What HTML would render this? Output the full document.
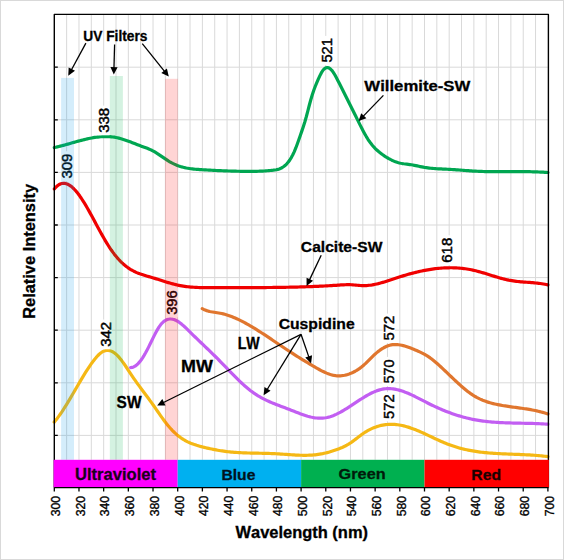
<!DOCTYPE html><html><head><meta charset="utf-8"><style>html,body{margin:0;padding:0;background:#fff;width:564px;height:560px;overflow:hidden}svg{display:block}text{font-family:"Liberation Sans",sans-serif;font-weight:bold;font-kerning:none}</style></head><body>
<svg width="564" height="560" viewBox="0 0 564 560">
<rect x="0" y="0" width="564" height="560" fill="#fff"/>
<rect x="0.5" y="0.5" width="563" height="559" fill="none" stroke="#D9D9D9" stroke-width="1"/>
<path d="M66.64,14.40V459.80 M78.98,14.40V459.80 M91.32,14.40V459.80 M103.66,14.40V459.80 M116.00,14.40V459.80 M128.34,14.40V459.80 M140.68,14.40V459.80 M153.02,14.40V459.80 M165.36,14.40V459.80 M177.70,14.40V459.80 M190.04,14.40V459.80 M202.38,14.40V459.80 M214.72,14.40V459.80 M227.06,14.40V459.80 M239.40,14.40V459.80 M251.74,14.40V459.80 M264.08,14.40V459.80 M276.42,14.40V459.80 M288.76,14.40V459.80 M301.10,14.40V459.80 M313.44,14.40V459.80 M325.78,14.40V459.80 M338.12,14.40V459.80 M350.46,14.40V459.80 M362.80,14.40V459.80 M375.14,14.40V459.80 M387.48,14.40V459.80 M399.82,14.40V459.80 M412.16,14.40V459.80 M424.50,14.40V459.80 M436.84,14.40V459.80 M449.18,14.40V459.80 M461.52,14.40V459.80 M473.86,14.40V459.80 M486.20,14.40V459.80 M498.54,14.40V459.80 M510.88,14.40V459.80 M523.22,14.40V459.80 M535.56,14.40V459.80 M54.30,67.20H547.90 M54.30,119.80H547.90 M54.30,172.40H547.90 M54.30,225.00H547.90 M54.30,277.60H547.90 M54.30,330.20H547.90 M54.30,382.80H547.90 M54.30,435.40H547.90" stroke="#D9D9D9" stroke-width="1" fill="none"/>
<path d="M54.30,147.55 L55.80,147.22 L57.30,146.87 L58.80,146.51 L60.30,146.14 L61.80,145.75 L63.30,145.35 L64.80,144.94 L66.30,144.53 L67.80,144.11 L69.30,143.69 L70.80,143.26 L72.30,142.83 L73.80,142.41 L75.30,141.98 L76.80,141.57 L78.30,141.15 L79.80,140.75 L81.30,140.35 L82.80,139.96 L84.30,139.59 L85.80,139.23 L87.30,138.88 L88.80,138.56 L90.30,138.25 L91.80,137.96 L93.30,137.69 L94.80,137.45 L96.30,137.24 L97.80,137.05 L99.30,136.88 L100.80,136.75 L102.30,136.65 L103.80,136.59 L105.30,136.56 L106.80,136.56 L108.30,136.61 L109.80,136.69 L111.30,136.82 L112.80,136.99 L114.30,137.20 L115.80,137.46 L117.30,137.77 L118.80,138.13 L120.30,138.52 L121.80,138.95 L123.30,139.42 L124.80,139.91 L126.30,140.43 L127.80,140.97 L129.30,141.53 L130.80,142.10 L132.30,142.68 L133.80,143.26 L135.30,143.85 L136.80,144.44 L138.30,145.02 L139.80,145.59 L141.30,146.14 L142.80,146.69 L144.30,147.23 L145.80,147.78 L147.30,148.35 L148.80,148.96 L150.30,149.61 L151.80,150.32 L153.30,151.10 L154.80,151.95 L156.30,152.86 L157.80,153.81 L159.30,154.81 L160.80,155.82 L162.30,156.85 L163.80,157.88 L165.30,158.90 L166.80,159.90 L168.30,160.86 L169.80,161.77 L171.30,162.62 L172.80,163.41 L174.30,164.13 L175.80,164.79 L177.30,165.40 L178.80,165.94 L180.30,166.44 L181.80,166.88 L183.30,167.28 L184.80,167.64 L186.30,167.96 L187.80,168.24 L189.30,168.49 L190.80,168.71 L192.30,168.90 L193.80,169.07 L195.30,169.22 L196.80,169.35 L198.30,169.46 L199.80,169.57 L201.30,169.67 L202.80,169.76 L204.30,169.85 L205.80,169.94 L207.30,170.02 L208.80,170.11 L210.30,170.19 L211.80,170.27 L213.30,170.34 L214.80,170.42 L216.30,170.49 L217.80,170.56 L219.30,170.63 L220.80,170.69 L222.30,170.75 L223.80,170.81 L225.30,170.87 L226.80,170.92 L228.30,170.98 L229.80,171.02 L231.30,171.07 L232.80,171.12 L234.30,171.16 L235.80,171.19 L237.30,171.23 L238.80,171.26 L240.30,171.29 L241.80,171.32 L243.30,171.34 L244.80,171.36 L246.30,171.37 L247.80,171.38 L249.30,171.38 L250.80,171.38 L252.30,171.37 L253.80,171.35 L255.30,171.33 L256.80,171.29 L258.30,171.25 L259.80,171.20 L261.30,171.13 L262.80,171.06 L264.30,170.98 L265.80,170.88 L267.30,170.77 L268.80,170.65 L270.30,170.52 L271.80,170.37 L273.30,170.21 L274.80,170.01 L276.30,169.75 L277.80,169.40 L279.30,168.93 L280.80,168.31 L282.30,167.52 L283.80,166.53 L285.30,165.31 L286.80,163.83 L288.30,162.06 L289.80,159.98 L291.30,157.56 L292.80,154.77 L294.30,151.58 L295.80,147.97 L297.30,144.00 L298.80,139.80 L300.30,135.46 L301.80,131.11 L303.30,126.67 L304.80,121.95 L306.30,116.76 L307.80,111.06 L309.30,105.23 L310.80,99.73 L312.30,94.78 L313.80,90.30 L315.30,86.24 L316.80,82.53 L318.30,79.09 L319.80,75.86 L321.30,72.93 L322.80,70.52 L324.30,68.81 L325.80,67.81 L327.30,67.50 L328.80,67.84 L330.30,68.78 L331.80,70.30 L333.30,72.33 L334.80,74.77 L336.30,77.50 L337.80,80.39 L339.30,83.32 L340.80,86.27 L342.30,89.23 L343.80,92.20 L345.30,95.19 L346.80,98.19 L348.30,101.19 L349.80,104.21 L351.30,107.23 L352.80,110.26 L354.30,113.29 L355.80,116.32 L357.30,119.36 L358.80,122.39 L360.30,125.38 L361.80,128.32 L363.30,131.18 L364.80,133.93 L366.30,136.55 L367.80,139.01 L369.30,141.29 L370.80,143.36 L372.30,145.26 L373.80,146.98 L375.30,148.54 L376.80,149.98 L378.30,151.31 L379.80,152.54 L381.30,153.69 L382.80,154.79 L384.30,155.83 L385.80,156.82 L387.30,157.75 L388.80,158.63 L390.30,159.44 L391.80,160.19 L393.30,160.88 L394.80,161.50 L396.30,162.05 L397.80,162.53 L399.30,162.94 L400.80,163.28 L402.30,163.55 L403.80,163.78 L405.30,163.97 L406.80,164.15 L408.30,164.34 L409.80,164.54 L411.30,164.77 L412.80,165.04 L414.30,165.32 L415.80,165.63 L417.30,165.94 L418.80,166.26 L420.30,166.58 L421.80,166.89 L423.30,167.18 L424.80,167.45 L426.30,167.69 L427.80,167.90 L429.30,168.09 L430.80,168.25 L432.30,168.40 L433.80,168.52 L435.30,168.63 L436.80,168.73 L438.30,168.81 L439.80,168.89 L441.30,168.96 L442.80,169.03 L444.30,169.09 L445.80,169.16 L447.30,169.23 L448.80,169.31 L450.30,169.39 L451.80,169.48 L453.30,169.58 L454.80,169.69 L456.30,169.79 L457.80,169.91 L459.30,170.02 L460.80,170.14 L462.30,170.26 L463.80,170.38 L465.30,170.50 L466.80,170.61 L468.30,170.72 L469.80,170.83 L471.30,170.93 L472.80,171.03 L474.30,171.12 L475.80,171.20 L477.30,171.27 L478.80,171.34 L480.30,171.40 L481.80,171.45 L483.30,171.49 L484.80,171.53 L486.30,171.57 L487.80,171.60 L489.30,171.62 L490.80,171.64 L492.30,171.65 L493.80,171.67 L495.30,171.67 L496.80,171.68 L498.30,171.68 L499.80,171.68 L501.30,171.68 L502.80,171.67 L504.30,171.67 L505.80,171.66 L507.30,171.66 L508.80,171.65 L510.30,171.64 L511.80,171.63 L513.30,171.63 L514.80,171.62 L516.30,171.62 L517.80,171.62 L519.30,171.62 L520.80,171.62 L522.30,171.63 L523.80,171.64 L525.30,171.65 L526.80,171.67 L528.30,171.69 L529.80,171.72 L531.30,171.75 L532.80,171.78 L534.30,171.82 L535.80,171.87 L537.30,171.93 L538.80,171.99 L540.30,172.06 L541.80,172.13 L543.30,172.22 L544.80,172.31 L546.30,172.41 L547.80,172.52 L547.90,172.53" stroke="#00A651" stroke-width="3.20" fill="none" stroke-linejoin="round" stroke-linecap="round"/>
<path d="M54.30,188.96 L55.80,187.23 L57.30,185.83 L58.80,184.75 L60.30,183.98 L61.80,183.50 L63.30,183.31 L64.80,183.38 L66.30,183.71 L67.80,184.28 L69.30,185.08 L70.80,186.10 L72.30,187.32 L73.80,188.73 L75.30,190.33 L76.80,192.09 L78.30,194.00 L79.80,196.06 L81.30,198.25 L82.80,200.55 L84.30,202.95 L85.80,205.44 L87.30,208.02 L88.80,210.65 L90.30,213.35 L91.80,216.08 L93.30,218.84 L94.80,221.62 L96.30,224.41 L97.80,227.19 L99.30,229.95 L100.80,232.69 L102.30,235.38 L103.80,238.02 L105.30,240.60 L106.80,243.11 L108.30,245.52 L109.80,247.84 L111.30,250.05 L112.80,252.15 L114.30,254.14 L115.80,256.03 L117.30,257.81 L118.80,259.49 L120.30,261.08 L121.80,262.56 L123.30,263.95 L124.80,265.25 L126.30,266.45 L127.80,267.57 L129.30,268.59 L130.80,269.54 L132.30,270.41 L133.80,271.20 L135.30,271.94 L136.80,272.61 L138.30,273.23 L139.80,273.81 L141.30,274.35 L142.80,274.85 L144.30,275.32 L145.80,275.78 L147.30,276.22 L148.80,276.65 L150.30,277.07 L151.80,277.51 L153.30,277.95 L154.80,278.40 L156.30,278.86 L157.80,279.33 L159.30,279.80 L160.80,280.28 L162.30,280.76 L163.80,281.24 L165.30,281.71 L166.80,282.17 L168.30,282.63 L169.80,283.07 L171.30,283.50 L172.80,283.91 L174.30,284.30 L175.80,284.67 L177.30,285.02 L178.80,285.34 L180.30,285.63 L181.80,285.90 L183.30,286.14 L184.80,286.36 L186.30,286.56 L187.80,286.74 L189.30,286.90 L190.80,287.04 L192.30,287.16 L193.80,287.27 L195.30,287.36 L196.80,287.44 L198.30,287.50 L199.80,287.55 L201.30,287.60 L202.80,287.63 L204.30,287.65 L205.80,287.67 L207.30,287.68 L208.80,287.68 L210.30,287.68 L211.80,287.68 L213.30,287.68 L214.80,287.67 L216.30,287.67 L217.80,287.66 L219.30,287.66 L220.80,287.66 L222.30,287.65 L223.80,287.65 L225.30,287.65 L226.80,287.65 L228.30,287.65 L229.80,287.64 L231.30,287.64 L232.80,287.64 L234.30,287.64 L235.80,287.64 L237.30,287.64 L238.80,287.63 L240.30,287.63 L241.80,287.63 L243.30,287.63 L244.80,287.62 L246.30,287.62 L247.80,287.62 L249.30,287.61 L250.80,287.61 L252.30,287.60 L253.80,287.60 L255.30,287.59 L256.80,287.59 L258.30,287.58 L259.80,287.57 L261.30,287.56 L262.80,287.55 L264.30,287.54 L265.80,287.53 L267.30,287.52 L268.80,287.51 L270.30,287.49 L271.80,287.48 L273.30,287.46 L274.80,287.45 L276.30,287.43 L277.80,287.41 L279.30,287.39 L280.80,287.36 L282.30,287.34 L283.80,287.32 L285.30,287.29 L286.80,287.26 L288.30,287.23 L289.80,287.20 L291.30,287.17 L292.80,287.14 L294.30,287.10 L295.80,287.06 L297.30,287.03 L298.80,286.99 L300.30,286.94 L301.80,286.90 L303.30,286.85 L304.80,286.80 L306.30,286.75 L307.80,286.70 L309.30,286.65 L310.80,286.59 L312.30,286.53 L313.80,286.47 L315.30,286.41 L316.80,286.35 L318.30,286.28 L319.80,286.21 L321.30,286.14 L322.80,286.06 L324.30,285.98 L325.80,285.91 L327.30,285.82 L328.80,285.74 L330.30,285.65 L331.80,285.56 L333.30,285.47 L334.80,285.37 L336.30,285.28 L337.80,285.17 L339.30,285.07 L340.80,284.97 L342.30,284.88 L343.80,284.79 L345.30,284.73 L346.80,284.69 L348.30,284.68 L349.80,284.71 L351.30,284.77 L352.80,284.87 L354.30,285.00 L355.80,285.13 L357.30,285.27 L358.80,285.40 L360.30,285.51 L361.80,285.59 L363.30,285.62 L364.80,285.60 L366.30,285.54 L367.80,285.43 L369.30,285.28 L370.80,285.09 L372.30,284.86 L373.80,284.59 L375.30,284.29 L376.80,283.96 L378.30,283.61 L379.80,283.22 L381.30,282.82 L382.80,282.39 L384.30,281.95 L385.80,281.49 L387.30,281.01 L388.80,280.53 L390.30,280.04 L391.80,279.54 L393.30,279.04 L394.80,278.54 L396.30,278.04 L397.80,277.54 L399.30,277.06 L400.80,276.58 L402.30,276.11 L403.80,275.64 L405.30,275.19 L406.80,274.75 L408.30,274.32 L409.80,273.90 L411.30,273.49 L412.80,273.09 L414.30,272.71 L415.80,272.33 L417.30,271.97 L418.80,271.62 L420.30,271.29 L421.80,270.96 L423.30,270.65 L424.80,270.36 L426.30,270.08 L427.80,269.81 L429.30,269.56 L430.80,269.32 L432.30,269.10 L433.80,268.89 L435.30,268.71 L436.80,268.53 L438.30,268.38 L439.80,268.24 L441.30,268.11 L442.80,268.01 L444.30,267.92 L445.80,267.86 L447.30,267.81 L448.80,267.78 L450.30,267.76 L451.80,267.77 L453.30,267.80 L454.80,267.85 L456.30,267.92 L457.80,268.01 L459.30,268.12 L460.80,268.25 L462.30,268.40 L463.80,268.58 L465.30,268.78 L466.80,269.00 L468.30,269.24 L469.80,269.51 L471.30,269.80 L472.80,270.11 L474.30,270.45 L475.80,270.81 L477.30,271.19 L478.80,271.59 L480.30,272.01 L481.80,272.44 L483.30,272.88 L484.80,273.34 L486.30,273.80 L487.80,274.26 L489.30,274.73 L490.80,275.21 L492.30,275.67 L493.80,276.14 L495.30,276.60 L496.80,277.06 L498.30,277.50 L499.80,277.93 L501.30,278.35 L502.80,278.75 L504.30,279.14 L505.80,279.50 L507.30,279.84 L508.80,280.16 L510.30,280.44 L511.80,280.70 L513.30,280.94 L514.80,281.15 L516.30,281.33 L517.80,281.50 L519.30,281.65 L520.80,281.79 L522.30,281.92 L523.80,282.04 L525.30,282.15 L526.80,282.26 L528.30,282.36 L529.80,282.47 L531.30,282.59 L532.80,282.71 L534.30,282.84 L535.80,282.98 L537.30,283.14 L538.80,283.31 L540.30,283.51 L541.80,283.73 L543.30,283.97 L544.80,284.24 L546.30,284.54 L547.80,284.88 L547.90,284.90" stroke="#F00000" stroke-width="3.20" fill="none" stroke-linejoin="round" stroke-linecap="round"/>
<path d="M202.20,308.66 L203.70,309.43 L205.20,310.08 L206.70,310.62 L208.20,311.08 L209.70,311.46 L211.20,311.78 L212.70,312.05 L214.20,312.29 L215.70,312.52 L217.20,312.74 L218.70,312.98 L220.20,313.24 L221.70,313.54 L223.20,313.89 L224.70,314.28 L226.20,314.71 L227.70,315.18 L229.20,315.68 L230.70,316.23 L232.20,316.80 L233.70,317.42 L235.20,318.06 L236.70,318.72 L238.20,319.42 L239.70,320.14 L241.20,320.89 L242.70,321.65 L244.20,322.44 L245.70,323.25 L247.20,324.08 L248.70,324.92 L250.20,325.79 L251.70,326.67 L253.20,327.56 L254.70,328.48 L256.20,329.40 L257.70,330.34 L259.20,331.29 L260.70,332.25 L262.20,333.22 L263.70,334.19 L265.20,335.18 L266.70,336.17 L268.20,337.17 L269.70,338.18 L271.20,339.18 L272.70,340.20 L274.20,341.21 L275.70,342.22 L277.20,343.24 L278.70,344.25 L280.20,345.27 L281.70,346.27 L283.20,347.28 L284.70,348.28 L286.20,349.28 L287.70,350.27 L289.20,351.25 L290.70,352.22 L292.20,353.19 L293.70,354.15 L295.20,355.10 L296.70,356.05 L298.20,356.99 L299.70,357.92 L301.20,358.84 L302.70,359.77 L304.20,360.68 L305.70,361.59 L307.20,362.49 L308.70,363.39 L310.20,364.29 L311.70,365.18 L313.20,366.06 L314.70,366.94 L316.20,367.81 L317.70,368.66 L319.20,369.49 L320.70,370.29 L322.20,371.06 L323.70,371.79 L325.20,372.48 L326.70,373.12 L328.20,373.70 L329.70,374.23 L331.20,374.69 L332.70,375.08 L334.20,375.40 L335.70,375.64 L337.20,375.79 L338.70,375.85 L340.20,375.82 L341.70,375.70 L343.20,375.50 L344.70,375.22 L346.20,374.87 L347.70,374.43 L349.20,373.93 L350.70,373.36 L352.20,372.73 L353.70,372.02 L355.20,371.24 L356.70,370.37 L358.20,369.43 L359.70,368.39 L361.20,367.26 L362.70,366.03 L364.20,364.70 L365.70,363.30 L367.20,361.83 L368.70,360.34 L370.20,358.82 L371.70,357.32 L373.20,355.86 L374.70,354.45 L376.20,353.11 L377.70,351.86 L379.20,350.70 L380.70,349.63 L382.20,348.66 L383.70,347.78 L385.20,347.00 L386.70,346.32 L388.20,345.75 L389.70,345.28 L391.20,344.93 L392.70,344.69 L394.20,344.55 L395.70,344.52 L397.20,344.58 L398.70,344.73 L400.20,344.96 L401.70,345.26 L403.20,345.62 L404.70,346.04 L406.20,346.50 L407.70,347.01 L409.20,347.55 L410.70,348.11 L412.20,348.70 L413.70,349.29 L415.20,349.90 L416.70,350.52 L418.20,351.18 L419.70,351.86 L421.20,352.58 L422.70,353.33 L424.20,354.14 L425.70,354.99 L427.20,355.91 L428.70,356.88 L430.20,357.92 L431.70,359.04 L433.20,360.22 L434.70,361.46 L436.20,362.75 L437.70,364.07 L439.20,365.42 L440.70,366.79 L442.20,368.18 L443.70,369.59 L445.20,371.00 L446.70,372.43 L448.20,373.87 L449.70,375.31 L451.20,376.75 L452.70,378.18 L454.20,379.60 L455.70,381.02 L457.20,382.41 L458.70,383.79 L460.20,385.14 L461.70,386.47 L463.20,387.76 L464.70,389.02 L466.20,390.24 L467.70,391.42 L469.20,392.55 L470.70,393.63 L472.20,394.65 L473.70,395.61 L475.20,396.52 L476.70,397.36 L478.20,398.15 L479.70,398.89 L481.20,399.58 L482.70,400.22 L484.20,400.81 L485.70,401.36 L487.20,401.88 L488.70,402.35 L490.20,402.80 L491.70,403.21 L493.20,403.59 L494.70,403.95 L496.20,404.29 L497.70,404.60 L499.20,404.90 L500.70,405.18 L502.20,405.45 L503.70,405.71 L505.20,405.95 L506.70,406.19 L508.20,406.41 L509.70,406.63 L511.20,406.84 L512.70,407.05 L514.20,407.26 L515.70,407.46 L517.20,407.66 L518.70,407.86 L520.20,408.07 L521.70,408.28 L523.20,408.49 L524.70,408.71 L526.20,408.94 L527.70,409.18 L529.20,409.42 L530.70,409.68 L532.20,409.96 L533.70,410.24 L535.20,410.55 L536.70,410.87 L538.20,411.21 L539.70,411.57 L541.20,411.95 L542.70,412.35 L544.20,412.78 L545.70,413.23 L547.20,413.71 L547.90,413.95" stroke="#E0762E" stroke-width="3.20" fill="none" stroke-linejoin="round" stroke-linecap="round"/>
<path d="M130.60,367.53 L132.10,367.42 L133.60,366.95 L135.10,366.14 L136.60,365.02 L138.10,363.61 L139.60,361.92 L141.10,359.98 L142.60,357.80 L144.10,355.41 L145.60,352.81 L147.10,350.04 L148.60,347.12 L150.10,344.08 L151.60,340.99 L153.10,337.91 L154.60,334.90 L156.10,332.03 L157.60,329.35 L159.10,326.93 L160.60,324.83 L162.10,323.07 L163.60,321.65 L165.10,320.55 L166.60,319.75 L168.10,319.23 L169.60,318.97 L171.10,318.96 L172.60,319.17 L174.10,319.58 L175.60,320.19 L177.10,320.96 L178.60,321.89 L180.10,322.95 L181.60,324.13 L183.10,325.41 L184.60,326.76 L186.10,328.17 L187.60,329.63 L189.10,331.11 L190.60,332.59 L192.10,334.07 L193.60,335.53 L195.10,336.99 L196.60,338.43 L198.10,339.88 L199.60,341.31 L201.10,342.75 L202.60,344.18 L204.10,345.62 L205.60,347.05 L207.10,348.49 L208.60,349.93 L210.10,351.37 L211.60,352.83 L213.10,354.29 L214.60,355.76 L216.10,357.24 L217.60,358.74 L219.10,360.25 L220.60,361.77 L222.10,363.31 L223.60,364.86 L225.10,366.41 L226.60,367.97 L228.10,369.52 L229.60,371.08 L231.10,372.63 L232.60,374.16 L234.10,375.69 L235.60,377.20 L237.10,378.69 L238.60,380.16 L240.10,381.60 L241.60,383.01 L243.10,384.39 L244.60,385.74 L246.10,387.05 L247.60,388.31 L249.10,389.53 L250.60,390.71 L252.10,391.83 L253.60,392.90 L255.10,393.92 L256.60,394.89 L258.10,395.82 L259.60,396.70 L261.10,397.55 L262.60,398.36 L264.10,399.14 L265.60,399.89 L267.10,400.60 L268.60,401.29 L270.10,401.96 L271.60,402.60 L273.10,403.22 L274.60,403.83 L276.10,404.43 L277.60,405.01 L279.10,405.58 L280.60,406.15 L282.10,406.72 L283.60,407.28 L285.10,407.84 L286.60,408.41 L288.10,408.98 L289.60,409.57 L291.10,410.16 L292.60,410.75 L294.10,411.35 L295.60,411.94 L297.10,412.53 L298.60,413.11 L300.10,413.67 L301.60,414.22 L303.10,414.75 L304.60,415.25 L306.10,415.72 L307.60,416.17 L309.10,416.58 L310.60,416.95 L312.10,417.28 L313.60,417.56 L315.10,417.80 L316.60,417.98 L318.10,418.11 L319.60,418.18 L321.10,418.18 L322.60,418.12 L324.10,417.98 L325.60,417.78 L327.10,417.49 L328.60,417.13 L330.10,416.71 L331.60,416.21 L333.10,415.66 L334.60,415.04 L336.10,414.38 L337.60,413.66 L339.10,412.90 L340.60,412.10 L342.10,411.25 L343.60,410.38 L345.10,409.48 L346.60,408.55 L348.10,407.60 L349.60,406.63 L351.10,405.65 L352.60,404.66 L354.10,403.66 L355.60,402.66 L357.10,401.67 L358.60,400.68 L360.10,399.71 L361.60,398.75 L363.10,397.81 L364.60,396.89 L366.10,396.00 L367.60,395.14 L369.10,394.32 L370.60,393.53 L372.10,392.79 L373.60,392.10 L375.10,391.46 L376.60,390.87 L378.10,390.35 L379.60,389.88 L381.10,389.49 L382.60,389.17 L384.10,388.92 L385.60,388.75 L387.10,388.65 L388.60,388.62 L390.10,388.67 L391.60,388.77 L393.10,388.94 L394.60,389.16 L396.10,389.44 L397.60,389.78 L399.10,390.16 L400.60,390.59 L402.10,391.06 L403.60,391.58 L405.10,392.13 L406.60,392.72 L408.10,393.34 L409.60,393.98 L411.10,394.66 L412.60,395.36 L414.10,396.07 L415.60,396.81 L417.10,397.56 L418.60,398.32 L420.10,399.09 L421.60,399.87 L423.10,400.64 L424.60,401.42 L426.10,402.20 L427.60,402.96 L429.10,403.72 L430.60,404.47 L432.10,405.20 L433.60,405.92 L435.10,406.63 L436.60,407.32 L438.10,407.99 L439.60,408.65 L441.10,409.30 L442.60,409.93 L444.10,410.55 L445.60,411.15 L447.10,411.74 L448.60,412.31 L450.10,412.87 L451.60,413.41 L453.10,413.93 L454.60,414.44 L456.10,414.94 L457.60,415.42 L459.10,415.88 L460.60,416.33 L462.10,416.76 L463.60,417.17 L465.10,417.57 L466.60,417.95 L468.10,418.32 L469.60,418.67 L471.10,419.00 L472.60,419.32 L474.10,419.61 L475.60,419.90 L477.10,420.16 L478.60,420.41 L480.10,420.64 L481.60,420.86 L483.10,421.07 L484.60,421.26 L486.10,421.44 L487.60,421.61 L489.10,421.76 L490.60,421.91 L492.10,422.04 L493.60,422.16 L495.10,422.27 L496.60,422.38 L498.10,422.47 L499.60,422.56 L501.10,422.63 L502.60,422.71 L504.10,422.77 L505.60,422.83 L507.10,422.88 L508.60,422.93 L510.10,422.97 L511.60,423.01 L513.10,423.05 L514.60,423.08 L516.10,423.11 L517.60,423.14 L519.10,423.17 L520.60,423.20 L522.10,423.23 L523.60,423.25 L525.10,423.28 L526.60,423.31 L528.10,423.34 L529.60,423.38 L531.10,423.42 L532.60,423.46 L534.10,423.50 L535.60,423.55 L537.10,423.61 L538.60,423.67 L540.10,423.74 L541.60,423.81 L543.10,423.89 L544.60,423.98 L546.10,424.08 L547.60,424.19 L547.90,424.21" stroke="#C25EF2" stroke-width="3.20" fill="none" stroke-linejoin="round" stroke-linecap="round"/>
<path d="M54.20,422.13 L55.70,420.33 L57.20,418.42 L58.70,416.40 L60.20,414.29 L61.70,412.10 L63.20,409.83 L64.70,407.48 L66.20,405.08 L67.70,402.62 L69.20,400.12 L70.70,397.59 L72.20,395.03 L73.70,392.45 L75.20,389.86 L76.70,387.27 L78.20,384.68 L79.70,382.12 L81.20,379.57 L82.70,377.06 L84.20,374.59 L85.70,372.18 L87.20,369.82 L88.70,367.53 L90.20,365.32 L91.70,363.19 L93.20,361.16 L94.70,359.23 L96.20,357.42 L97.70,355.75 L99.20,354.26 L100.70,352.98 L102.20,351.95 L103.70,351.18 L105.20,350.66 L106.70,350.40 L108.20,350.38 L109.70,350.61 L111.20,351.08 L112.70,351.78 L114.20,352.73 L115.70,353.90 L117.20,355.30 L118.70,356.90 L120.20,358.67 L121.70,360.59 L123.20,362.64 L124.70,364.79 L126.20,367.00 L127.70,369.27 L129.20,371.55 L130.70,373.83 L132.20,376.08 L133.70,378.28 L135.20,380.43 L136.70,382.55 L138.20,384.62 L139.70,386.67 L141.20,388.70 L142.70,390.72 L144.20,392.73 L145.70,394.74 L147.20,396.75 L148.70,398.78 L150.20,400.83 L151.70,402.91 L153.20,405.02 L154.70,407.16 L156.20,409.32 L157.70,411.49 L159.20,413.66 L160.70,415.80 L162.20,417.92 L163.70,419.98 L165.20,421.99 L166.70,423.93 L168.20,425.79 L169.70,427.54 L171.20,429.21 L172.70,430.77 L174.20,432.25 L175.70,433.63 L177.20,434.93 L178.70,436.15 L180.20,437.28 L181.70,438.34 L183.20,439.32 L184.70,440.23 L186.20,441.07 L187.70,441.84 L189.20,442.54 L190.70,443.19 L192.20,443.79 L193.70,444.34 L195.20,444.85 L196.70,445.33 L198.20,445.77 L199.70,446.19 L201.20,446.59 L202.70,446.98 L204.20,447.35 L205.70,447.71 L207.20,448.07 L208.70,448.41 L210.20,448.74 L211.70,449.06 L213.20,449.37 L214.70,449.66 L216.20,449.94 L217.70,450.21 L219.20,450.47 L220.70,450.72 L222.20,450.95 L223.70,451.16 L225.20,451.37 L226.70,451.56 L228.20,451.73 L229.70,451.89 L231.20,452.04 L232.70,452.17 L234.20,452.30 L235.70,452.41 L237.20,452.51 L238.70,452.60 L240.20,452.68 L241.70,452.75 L243.20,452.82 L244.70,452.88 L246.20,452.93 L247.70,452.98 L249.20,453.02 L250.70,453.06 L252.20,453.09 L253.70,453.12 L255.20,453.15 L256.70,453.18 L258.20,453.21 L259.70,453.24 L261.20,453.27 L262.70,453.30 L264.20,453.33 L265.70,453.36 L267.20,453.40 L268.70,453.45 L270.20,453.49 L271.70,453.55 L273.20,453.61 L274.70,453.68 L276.20,453.75 L277.70,453.84 L279.20,453.93 L280.70,454.03 L282.20,454.13 L283.70,454.24 L285.20,454.34 L286.70,454.45 L288.20,454.56 L289.70,454.67 L291.20,454.77 L292.70,454.87 L294.20,454.96 L295.70,455.04 L297.20,455.12 L298.70,455.18 L300.20,455.23 L301.70,455.27 L303.20,455.29 L304.70,455.30 L306.20,455.29 L307.70,455.26 L309.20,455.21 L310.70,455.14 L312.20,455.05 L313.70,454.93 L315.20,454.79 L316.70,454.62 L318.20,454.42 L319.70,454.19 L321.20,453.93 L322.70,453.64 L324.20,453.31 L325.70,452.96 L327.20,452.58 L328.70,452.18 L330.20,451.75 L331.70,451.29 L333.20,450.81 L334.70,450.30 L336.20,449.77 L337.70,449.22 L339.20,448.65 L340.70,448.05 L342.20,447.42 L343.70,446.74 L345.20,446.02 L346.70,445.23 L348.20,444.38 L349.70,443.46 L351.20,442.47 L352.70,441.40 L354.20,440.28 L355.70,439.13 L357.20,437.96 L358.70,436.80 L360.20,435.65 L361.70,434.54 L363.20,433.48 L364.70,432.48 L366.20,431.54 L367.70,430.67 L369.20,429.85 L370.70,429.10 L372.20,428.40 L373.70,427.76 L375.20,427.18 L376.70,426.65 L378.20,426.18 L379.70,425.77 L381.20,425.41 L382.70,425.10 L384.20,424.84 L385.70,424.64 L387.20,424.48 L388.70,424.38 L390.20,424.33 L391.70,424.32 L393.20,424.36 L394.70,424.45 L396.20,424.58 L397.70,424.76 L399.20,424.98 L400.70,425.24 L402.20,425.55 L403.70,425.89 L405.20,426.28 L406.70,426.70 L408.20,427.15 L409.70,427.63 L411.20,428.15 L412.70,428.69 L414.20,429.25 L415.70,429.84 L417.20,430.45 L418.70,431.08 L420.20,431.73 L421.70,432.39 L423.20,433.07 L424.70,433.75 L426.20,434.45 L427.70,435.15 L429.20,435.85 L430.70,436.56 L432.20,437.27 L433.70,437.98 L435.20,438.68 L436.70,439.38 L438.20,440.07 L439.70,440.75 L441.20,441.42 L442.70,442.08 L444.20,442.71 L445.70,443.34 L447.20,443.94 L448.70,444.52 L450.20,445.07 L451.70,445.60 L453.20,446.11 L454.70,446.60 L456.20,447.07 L457.70,447.51 L459.20,447.94 L460.70,448.34 L462.20,448.73 L463.70,449.09 L465.20,449.44 L466.70,449.77 L468.20,450.09 L469.70,450.38 L471.20,450.66 L472.70,450.93 L474.20,451.18 L475.70,451.41 L477.20,451.64 L478.70,451.84 L480.20,452.04 L481.70,452.22 L483.20,452.40 L484.70,452.56 L486.20,452.71 L487.70,452.85 L489.20,452.98 L490.70,453.10 L492.20,453.21 L493.70,453.32 L495.20,453.42 L496.70,453.51 L498.20,453.60 L499.70,453.68 L501.20,453.75 L502.70,453.82 L504.20,453.89 L505.70,453.95 L507.20,454.02 L508.70,454.07 L510.20,454.13 L511.70,454.19 L513.20,454.24 L514.70,454.30 L516.20,454.35 L517.70,454.41 L519.20,454.47 L520.70,454.53 L522.20,454.59 L523.70,454.66 L525.20,454.73 L526.70,454.80 L528.20,454.88 L529.70,454.97 L531.20,455.06 L532.70,455.16 L534.20,455.26 L535.70,455.37 L537.20,455.50 L538.70,455.62 L540.20,455.76 L541.70,455.91 L543.20,456.07 L544.70,456.24 L546.20,456.42 L547.70,456.62 L547.90,456.65" stroke="#F5B815" stroke-width="3.20" fill="none" stroke-linejoin="round" stroke-linecap="round"/>
<rect x="60.80" y="151.30" width="12.10" height="29.70" fill="#fff"/>
<rect x="97.80" y="105.60" width="11.90" height="29.70" fill="#fff"/>
<rect x="320.90" y="35.90" width="12.20" height="29.10" fill="#fff"/>
<rect x="441.10" y="235.30" width="11.80" height="29.70" fill="#fff"/>
<rect x="166.10" y="287.90" width="11.80" height="29.40" fill="#fff"/>
<rect x="100.10" y="319.60" width="11.80" height="29.70" fill="#fff"/>
<rect x="382.80" y="313.60" width="12.10" height="29.40" fill="#fff"/>
<rect x="382.50" y="356.90" width="11.90" height="29.10" fill="#fff"/>
<rect x="382.80" y="392.10" width="12.10" height="29.20" fill="#fff"/>
<text transform="translate(72.10,178.00) rotate(-90)" x="-0.57" y="0" font-size="15.04" textLength="24.98" lengthAdjust="spacingAndGlyphs" fill="#000" style="font-weight:normal" stroke="#000" stroke-width="0.45">309</text>
<text transform="translate(108.90,132.30) rotate(-90)" x="-0.57" y="0" font-size="14.76" textLength="24.92" lengthAdjust="spacingAndGlyphs" fill="#000" style="font-weight:normal" stroke="#000" stroke-width="0.45">338</text>
<text transform="translate(332.30,62.00) rotate(-90)" x="-0.59" y="0" font-size="15.19" textLength="24.40" lengthAdjust="spacingAndGlyphs" fill="#000" style="font-weight:normal" stroke="#000" stroke-width="0.45">521</text>
<text transform="translate(452.10,262.00) rotate(-90)" x="-0.76" y="0" font-size="14.61" textLength="25.12" lengthAdjust="spacingAndGlyphs" fill="#000" style="font-weight:normal" stroke="#000" stroke-width="0.45">618</text>
<text transform="translate(177.10,314.30) rotate(-90)" x="-0.56" y="0" font-size="14.61" textLength="24.61" lengthAdjust="spacingAndGlyphs" fill="#000" style="font-weight:normal" stroke="#000" stroke-width="0.45">396</text>
<text transform="translate(111.10,346.30) rotate(-90)" x="-0.57" y="0" font-size="14.61" textLength="25.03" lengthAdjust="spacingAndGlyphs" fill="#000" style="font-weight:normal" stroke="#000" stroke-width="0.45">342</text>
<text transform="translate(394.10,340.00) rotate(-90)" x="-0.59" y="0" font-size="15.04" textLength="24.74" lengthAdjust="spacingAndGlyphs" fill="#000" style="font-weight:normal" stroke="#000" stroke-width="0.45">572</text>
<text transform="translate(393.60,383.00) rotate(-90)" x="-0.58" y="0" font-size="14.76" textLength="24.25" lengthAdjust="spacingAndGlyphs" fill="#000" style="font-weight:normal" stroke="#000" stroke-width="0.45">570</text>
<text transform="translate(394.10,418.30) rotate(-90)" x="-0.59" y="0" font-size="15.04" textLength="24.53" lengthAdjust="spacingAndGlyphs" fill="#000" style="font-weight:normal" stroke="#000" stroke-width="0.45">572</text>
<rect x="61.10" y="77.90" width="12.90" height="381.90" fill="rgba(0,150,230,0.17)"/>
<rect x="109.80" y="76.00" width="13.10" height="383.80" fill="rgba(0,176,80,0.17)"/>
<rect x="165.00" y="78.80" width="12.90" height="381.00" fill="rgba(255,0,0,0.17)"/>
<path d="M54.30,487.60 V14.40 H548.40 V487.60" stroke="#000" stroke-width="1.4" fill="none" stroke-linejoin="round"/>
<rect x="53.60" y="459.80" width="124.10" height="27.80" fill="#FF00FF"/>
<rect x="177.70" y="459.80" width="123.40" height="27.80" fill="#00B0F0"/>
<rect x="301.10" y="459.80" width="123.40" height="27.80" fill="#00B050"/>
<rect x="424.50" y="459.80" width="124.40" height="27.80" fill="#FF0000"/>
<path d="M54.30,487.60 H548.40" stroke="#000" stroke-width="1.2" fill="none"/>
<path d="M54.30,67.20H57.80 M54.30,119.80H57.80 M54.30,172.40H57.80 M54.30,225.00H57.80 M54.30,277.60H57.80 M54.30,330.20H57.80 M54.30,382.80H57.80 M54.30,435.40H57.80 M54.30,487.60V491.60 M78.98,487.60V491.60 M103.66,487.60V491.60 M128.34,487.60V491.60 M153.02,487.60V491.60 M177.70,487.60V491.60 M202.38,487.60V491.60 M227.06,487.60V491.60 M251.74,487.60V491.60 M276.42,487.60V491.60 M301.10,487.60V491.60 M325.78,487.60V491.60 M350.46,487.60V491.60 M375.14,487.60V491.60 M399.82,487.60V491.60 M424.50,487.60V491.60 M449.18,487.60V491.60 M473.86,487.60V491.60 M498.54,487.60V491.60 M523.22,487.60V491.60 M547.90,487.60V491.60" stroke="#000" stroke-width="1.3" fill="none"/>
<text x="83.27" y="41.20" font-size="14.39" textLength="64.19" lengthAdjust="spacingAndGlyphs" fill="#000" stroke="#000" stroke-width="0.30">UV Filters</text>
<text x="364.38" y="91.30" font-size="15.55" textLength="105.93" lengthAdjust="spacingAndGlyphs" fill="#000" stroke="#000" stroke-width="0.30">Willemite-SW</text>
<text x="300.86" y="252.20" font-size="15.55" textLength="81.56" lengthAdjust="spacingAndGlyphs" fill="#000" stroke="#000" stroke-width="0.30">Calcite-SW</text>
<text x="278.66" y="329.30" font-size="15.12" textLength="75.98" lengthAdjust="spacingAndGlyphs" fill="#000" stroke="#000" stroke-width="0.30">Cuspidine</text>
<text x="237.65" y="348.60" font-size="15.84" textLength="22.06" lengthAdjust="spacingAndGlyphs" fill="#000" stroke="#000" stroke-width="0.30">LW</text>
<text x="181.10" y="371.70" font-size="15.70" textLength="31.82" lengthAdjust="spacingAndGlyphs" fill="#000" stroke="#000" stroke-width="0.30">MW</text>
<text x="116.55" y="407.90" font-size="15.84" textLength="24.96" lengthAdjust="spacingAndGlyphs" fill="#000" stroke="#000" stroke-width="0.30">SW</text>
<text x="75.00" y="479.70" font-size="16.42" textLength="81.10" lengthAdjust="spacingAndGlyphs" fill="#1a001a" stroke="#1a001a" stroke-width="0.30">Ultraviolet</text>
<text x="221.45" y="479.70" font-size="15.41" textLength="33.99" lengthAdjust="spacingAndGlyphs" fill="#00141e" stroke="#00141e" stroke-width="0.30">Blue</text>
<text x="338.63" y="479.40" font-size="15.41" textLength="46.97" lengthAdjust="spacingAndGlyphs" fill="#001a0a" stroke="#001a0a" stroke-width="0.30">Green</text>
<text x="471.34" y="479.70" font-size="15.41" textLength="29.79" lengthAdjust="spacingAndGlyphs" fill="#1a0000" stroke="#1a0000" stroke-width="0.30">Red</text>
<text x="235.48" y="537.70" font-size="15.70" textLength="132.54" lengthAdjust="spacingAndGlyphs" fill="#000" stroke="#000" stroke-width="0.30">Wavelength (nm)</text>
<text transform="translate(35.00,317.70) rotate(-90)" x="-1.10" y="0" font-size="15.99" textLength="134.89" lengthAdjust="spacingAndGlyphs" fill="#000" stroke="#000" stroke-width="0.30">Relative Intensity</text>
<text transform="translate(60.10,515.70) rotate(-90)" x="-0.46" y="0" font-size="12.03" textLength="20.24" lengthAdjust="spacingAndGlyphs" fill="#000" style="font-weight:normal" stroke="#000" stroke-width="0.35">300</text>
<text transform="translate(84.78,515.70) rotate(-90)" x="-0.46" y="0" font-size="12.03" textLength="20.24" lengthAdjust="spacingAndGlyphs" fill="#000" style="font-weight:normal" stroke="#000" stroke-width="0.35">320</text>
<text transform="translate(109.46,515.70) rotate(-90)" x="-0.46" y="0" font-size="12.03" textLength="20.24" lengthAdjust="spacingAndGlyphs" fill="#000" style="font-weight:normal" stroke="#000" stroke-width="0.35">340</text>
<text transform="translate(134.14,515.70) rotate(-90)" x="-0.46" y="0" font-size="12.03" textLength="20.24" lengthAdjust="spacingAndGlyphs" fill="#000" style="font-weight:normal" stroke="#000" stroke-width="0.35">360</text>
<text transform="translate(158.82,515.70) rotate(-90)" x="-0.46" y="0" font-size="12.03" textLength="20.24" lengthAdjust="spacingAndGlyphs" fill="#000" style="font-weight:normal" stroke="#000" stroke-width="0.35">380</text>
<text transform="translate(183.50,515.70) rotate(-90)" x="-0.28" y="0" font-size="12.03" textLength="20.05" lengthAdjust="spacingAndGlyphs" fill="#000" style="font-weight:normal" stroke="#000" stroke-width="0.35">400</text>
<text transform="translate(208.18,515.70) rotate(-90)" x="-0.28" y="0" font-size="12.03" textLength="20.05" lengthAdjust="spacingAndGlyphs" fill="#000" style="font-weight:normal" stroke="#000" stroke-width="0.35">420</text>
<text transform="translate(232.86,515.70) rotate(-90)" x="-0.28" y="0" font-size="12.03" textLength="20.05" lengthAdjust="spacingAndGlyphs" fill="#000" style="font-weight:normal" stroke="#000" stroke-width="0.35">440</text>
<text transform="translate(257.54,515.70) rotate(-90)" x="-0.28" y="0" font-size="12.03" textLength="20.05" lengthAdjust="spacingAndGlyphs" fill="#000" style="font-weight:normal" stroke="#000" stroke-width="0.35">460</text>
<text transform="translate(282.22,515.70) rotate(-90)" x="-0.28" y="0" font-size="12.03" textLength="20.05" lengthAdjust="spacingAndGlyphs" fill="#000" style="font-weight:normal" stroke="#000" stroke-width="0.35">480</text>
<text transform="translate(306.90,515.70) rotate(-90)" x="-0.49" y="0" font-size="12.03" textLength="20.26" lengthAdjust="spacingAndGlyphs" fill="#000" style="font-weight:normal" stroke="#000" stroke-width="0.35">500</text>
<text transform="translate(331.58,515.70) rotate(-90)" x="-0.49" y="0" font-size="12.03" textLength="20.26" lengthAdjust="spacingAndGlyphs" fill="#000" style="font-weight:normal" stroke="#000" stroke-width="0.35">520</text>
<text transform="translate(356.26,515.70) rotate(-90)" x="-0.49" y="0" font-size="12.03" textLength="20.26" lengthAdjust="spacingAndGlyphs" fill="#000" style="font-weight:normal" stroke="#000" stroke-width="0.35">540</text>
<text transform="translate(380.94,515.70) rotate(-90)" x="-0.49" y="0" font-size="12.03" textLength="20.26" lengthAdjust="spacingAndGlyphs" fill="#000" style="font-weight:normal" stroke="#000" stroke-width="0.35">560</text>
<text transform="translate(405.62,515.70) rotate(-90)" x="-0.49" y="0" font-size="12.03" textLength="20.26" lengthAdjust="spacingAndGlyphs" fill="#000" style="font-weight:normal" stroke="#000" stroke-width="0.35">580</text>
<text transform="translate(430.30,515.70) rotate(-90)" x="-0.62" y="0" font-size="12.03" textLength="20.40" lengthAdjust="spacingAndGlyphs" fill="#000" style="font-weight:normal" stroke="#000" stroke-width="0.35">600</text>
<text transform="translate(454.98,515.70) rotate(-90)" x="-0.62" y="0" font-size="12.03" textLength="20.40" lengthAdjust="spacingAndGlyphs" fill="#000" style="font-weight:normal" stroke="#000" stroke-width="0.35">620</text>
<text transform="translate(479.66,515.70) rotate(-90)" x="-0.62" y="0" font-size="12.03" textLength="20.40" lengthAdjust="spacingAndGlyphs" fill="#000" style="font-weight:normal" stroke="#000" stroke-width="0.35">640</text>
<text transform="translate(504.34,515.70) rotate(-90)" x="-0.62" y="0" font-size="12.03" textLength="20.40" lengthAdjust="spacingAndGlyphs" fill="#000" style="font-weight:normal" stroke="#000" stroke-width="0.35">660</text>
<text transform="translate(529.02,515.70) rotate(-90)" x="-0.62" y="0" font-size="12.03" textLength="20.40" lengthAdjust="spacingAndGlyphs" fill="#000" style="font-weight:normal" stroke="#000" stroke-width="0.35">680</text>
<text transform="translate(553.70,515.70) rotate(-90)" x="-0.63" y="0" font-size="12.03" textLength="20.40" lengthAdjust="spacingAndGlyphs" fill="#000" style="font-weight:normal" stroke="#000" stroke-width="0.35">700</text>
<path d="M85.90,43.10 L71.34,69.98" stroke="#000" stroke-width="1.30" fill="none"/><path d="M68.25,75.70 L68.66,67.39 L74.99,70.82 Z" fill="#000"/>
<path d="M114.60,44.40 L113.97,68.10" stroke="#000" stroke-width="1.30" fill="none"/><path d="M113.80,74.60 L110.40,67.01 L117.60,67.20 Z" fill="#000"/>
<path d="M142.30,43.70 L164.72,71.54" stroke="#000" stroke-width="1.30" fill="none"/><path d="M168.80,76.60 L161.29,73.02 L166.90,68.50 Z" fill="#000"/>
<path d="M383.40,95.40 L363.11,116.42" stroke="#000" stroke-width="1.30" fill="none"/><path d="M358.60,121.10 L361.22,113.20 L366.40,118.20 Z" fill="#000"/>
<path d="M321.20,255.20 L309.38,280.13" stroke="#000" stroke-width="1.30" fill="none"/><path d="M306.60,286.00 L306.56,277.68 L313.07,280.76 Z" fill="#000"/>
<path d="M301.00,334.30 L308.98,357.36" stroke="#000" stroke-width="1.30" fill="none"/><path d="M311.10,363.50 L305.25,357.59 L312.05,355.24 Z" fill="#000"/>
<path d="M301.00,334.30 L267.00,389.76" stroke="#000" stroke-width="1.30" fill="none"/><path d="M263.60,395.30 L264.45,387.02 L270.59,390.79 Z" fill="#000"/>
<path d="M301.00,334.30 L163.02,402.71" stroke="#000" stroke-width="1.30" fill="none"/><path d="M157.20,405.60 L162.32,399.04 L165.52,405.49 Z" fill="#000"/>
</svg></body></html>
